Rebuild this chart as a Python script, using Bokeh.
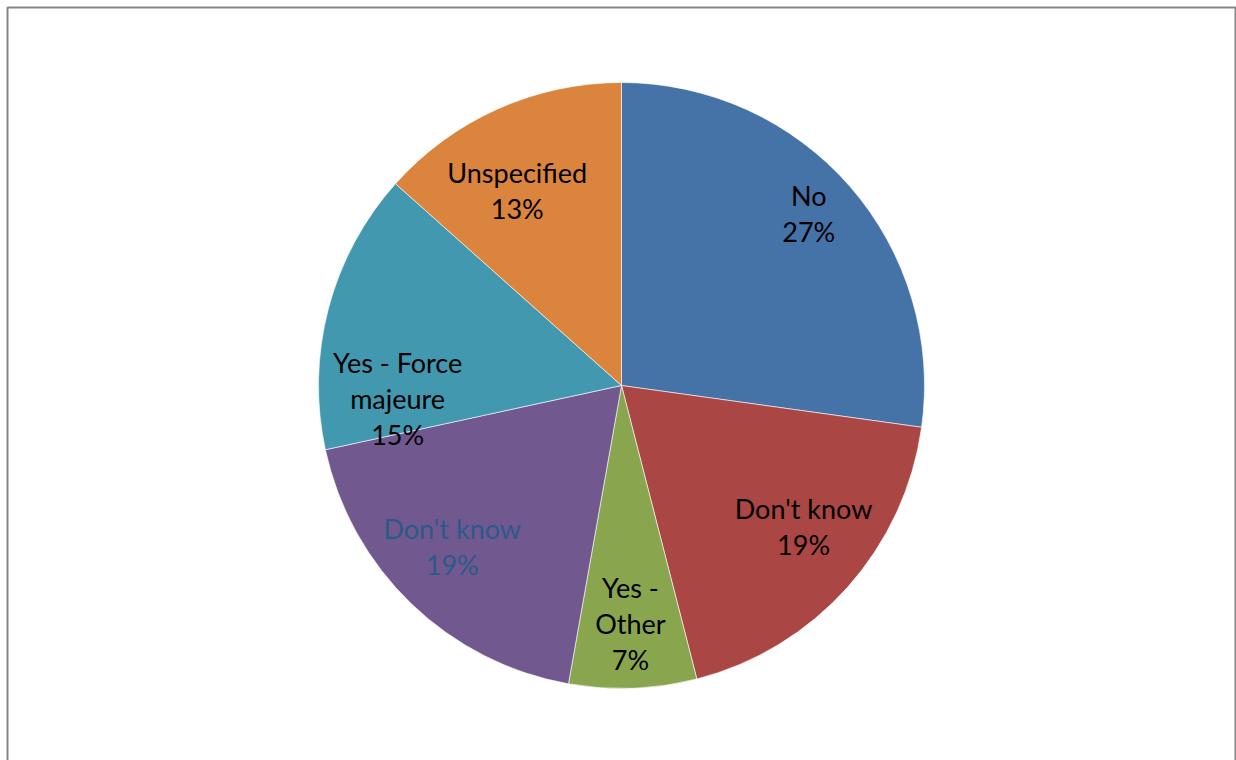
import math
from bokeh.plotting import figure
from bokeh.models import Range1d, ColumnDataSource, BoxAnnotation
from bokeh.core.properties import value
from bokeh.embed import file_html
from bokeh.resources import INLINE

# ---- data ----
categories = ["No", "Don't know", "Yes -\nOther", "Don't know", "Yes - Force\nmajeure", "Unspecified"]
shares = [27.2, 18.8, 6.8, 18.8, 15.0, 13.4]
colors = ["#4572A7", "#AA4643", "#89A54E", "#71588F", "#4198AF", "#DB843D"]
label_colors = ["#000000", "#000000", "#000000", "#2B5A8A", "#000000", "#000000"]
# label placement (style): radius fraction and angular nudge (degrees)
label_rfrac = [0.84, 0.76, 0.785, 0.77, 0.74, 0.73]
label_nudge = [-1.6, -4, 0, 2.6, -18, -4]

W, H = 1236, 760
cx, cy, R = 621, 375, 303
LINE = 36
FONT = "Lato"
FSIZE = "27px"

p = figure(width=W, height=H, output_backend="svg", toolbar_location=None,
           x_range=Range1d(0, W), y_range=Range1d(0, H), min_border=0)
p.axis.visible = False
p.grid.visible = False
p.outline_line_color = None
p.background_fill_color = "white"

# chart-area border (extends past the bottom edge, as in the reference)
p.add_layout(BoxAnnotation(left=7, right=1235, top=H - 7, bottom=-20,
                           fill_color=None, fill_alpha=0, line_color="#868686",
                           line_alpha=1.0, line_width=2))

total = sum(shares)
starts, ends = [], []
cum = 0.0
for s in shares:
    a0 = cum / total * 2 * math.pi
    cum += s
    a1 = cum / total * 2 * math.pi
    # clockwise from 12 o'clock -> bokeh ccw from +x
    starts.append(math.pi / 2 - a1)
    ends.append(math.pi / 2 - a0)

src = ColumnDataSource(dict(start=starts, end=ends, color=colors,
                            x=[cx] * len(shares), y=[cy] * len(shares)))
p.wedge(x="x", y="y", radius=R, start_angle="start", end_angle="end",
        fill_color="color", line_color="white", line_width=0.6, source=src)

# labels
cum = 0.0
tx, ty, tt, tc, toff = [], [], [], [], []
for i, s in enumerate(shares):
    mid = (cum + s / 2) / total * 360 + label_nudge[i]
    cum += s
    r = R * label_rfrac[i]
    lx = cx + r * math.sin(math.radians(mid))
    ly = cy + r * math.cos(math.radians(mid))
    lines = categories[i].split("\n") + [f"{round(s / total * 100)}%"]
    n = len(lines)
    for j, ln in enumerate(lines):
        tx.append(lx)
        ty.append(ly)
        tt.append(ln)
        tc.append(label_colors[i])
        toff.append((j - (n - 1) / 2) * LINE)

lsrc = ColumnDataSource(dict(x=tx, y=ty, text=tt, color=tc, off=toff))
p.text(x="x", y="y", text="text", y_offset="off", text_color="color",
       text_font=value(FONT), text_font_size=FSIZE, text_align="center",
       text_baseline="middle", source=lsrc)

open("out.html", "w").write(file_html(p, INLINE))
